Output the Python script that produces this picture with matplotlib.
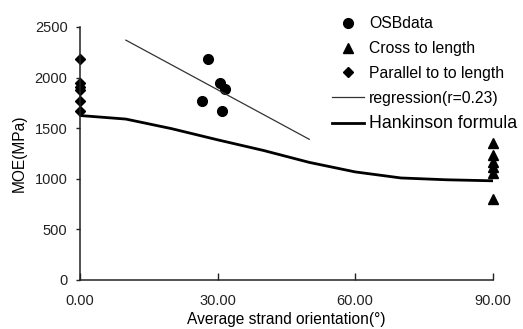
import matplotlib
matplotlib.use("Agg")
import matplotlib.pyplot as plt

plt.rcParams['font.family'] = ['Liberation Sans', 'DejaVu Sans']

# OSB data
osb_x = [28.0, 30.5, 31.6, 26.5, 30.9]
osb_y = [2180, 1944, 1884, 1772, 1673]

# cross to length (90 deg)
cross_x = [90, 90, 90, 90, 90, 90]
cross_y = [1357, 1235, 1169, 1113, 1054, 797]

# parallel to length (0 deg)
par_x = [0, 0, 0, 0, 0, 0]
par_y = [2180, 1945, 1905, 1875, 1770, 1665]

# regression line end points
reg_x = [10, 50]
reg_y = [2370, 1390]

# Hankinson formula curve
hank_x = [0, 10, 20, 30, 40, 50, 60, 70, 80, 90]
hank_y = [1625, 1590, 1495, 1385, 1280, 1162, 1068, 1008, 990, 980]

fig = plt.figure(figsize=(5.23, 3.29), dpi=100)
ax = fig.add_axes([0.153, 0.149, 0.789, 0.769])

ax.plot(osb_x, osb_y, 'o', color='black', ms=7, clip_on=False, label='OSBdata')
ax.plot(cross_x, cross_y, '^', color='black', ms=6.5, clip_on=False, label='Cross to length')
ax.plot(par_x, par_y, 'D', color='black', ms=5, clip_on=False, label='Parallel to to length')
ax.plot(reg_x, reg_y, '-', color='#333333', lw=0.9, label='regression(r=0.23)')
ax.plot(hank_x, hank_y, '-', color='black', lw=2.0, label='Hankinson formula')

ax.set_xlim(0, 90)
ax.set_ylim(0, 2500)
ax.set_xticks([0, 30, 60, 90])
ax.set_xticklabels(['0.00', '30.00', '60.00', '90.00'])
ax.set_yticks([0, 500, 1000, 1500, 2000, 2500])

ax.spines['top'].set_visible(False)
ax.spines['right'].set_visible(False)
for s in ('left', 'bottom'):
    ax.spines[s].set_linewidth(1.1)
    ax.spines[s].set_color('#222222')

ax.tick_params(axis='x', direction='in', length=5, width=1, pad=10, labelsize=10.5, colors='#222222')
ax.tick_params(axis='y', direction='out', length=3, width=1, pad=6, labelsize=10.5, colors='#222222')

ax.set_xlabel('Average strand orientation(°)', fontsize=11.2, labelpad=3)
ax.set_ylabel('MOE(MPa)', fontsize=11.2, labelpad=6)

leg = ax.legend(loc='upper left', frameon=False, numpoints=1, handlelength=2.05,
                handletextpad=0.3, labelspacing=0.62, fontsize=11.3, borderpad=0,
                borderaxespad=0)
leg.set_bbox_to_anchor((0.635, 0.95), transform=fig.transFigure)
leg.get_texts()[-1].set_fontsize(12.8)

fig.savefig('out.png', dpi=100)
